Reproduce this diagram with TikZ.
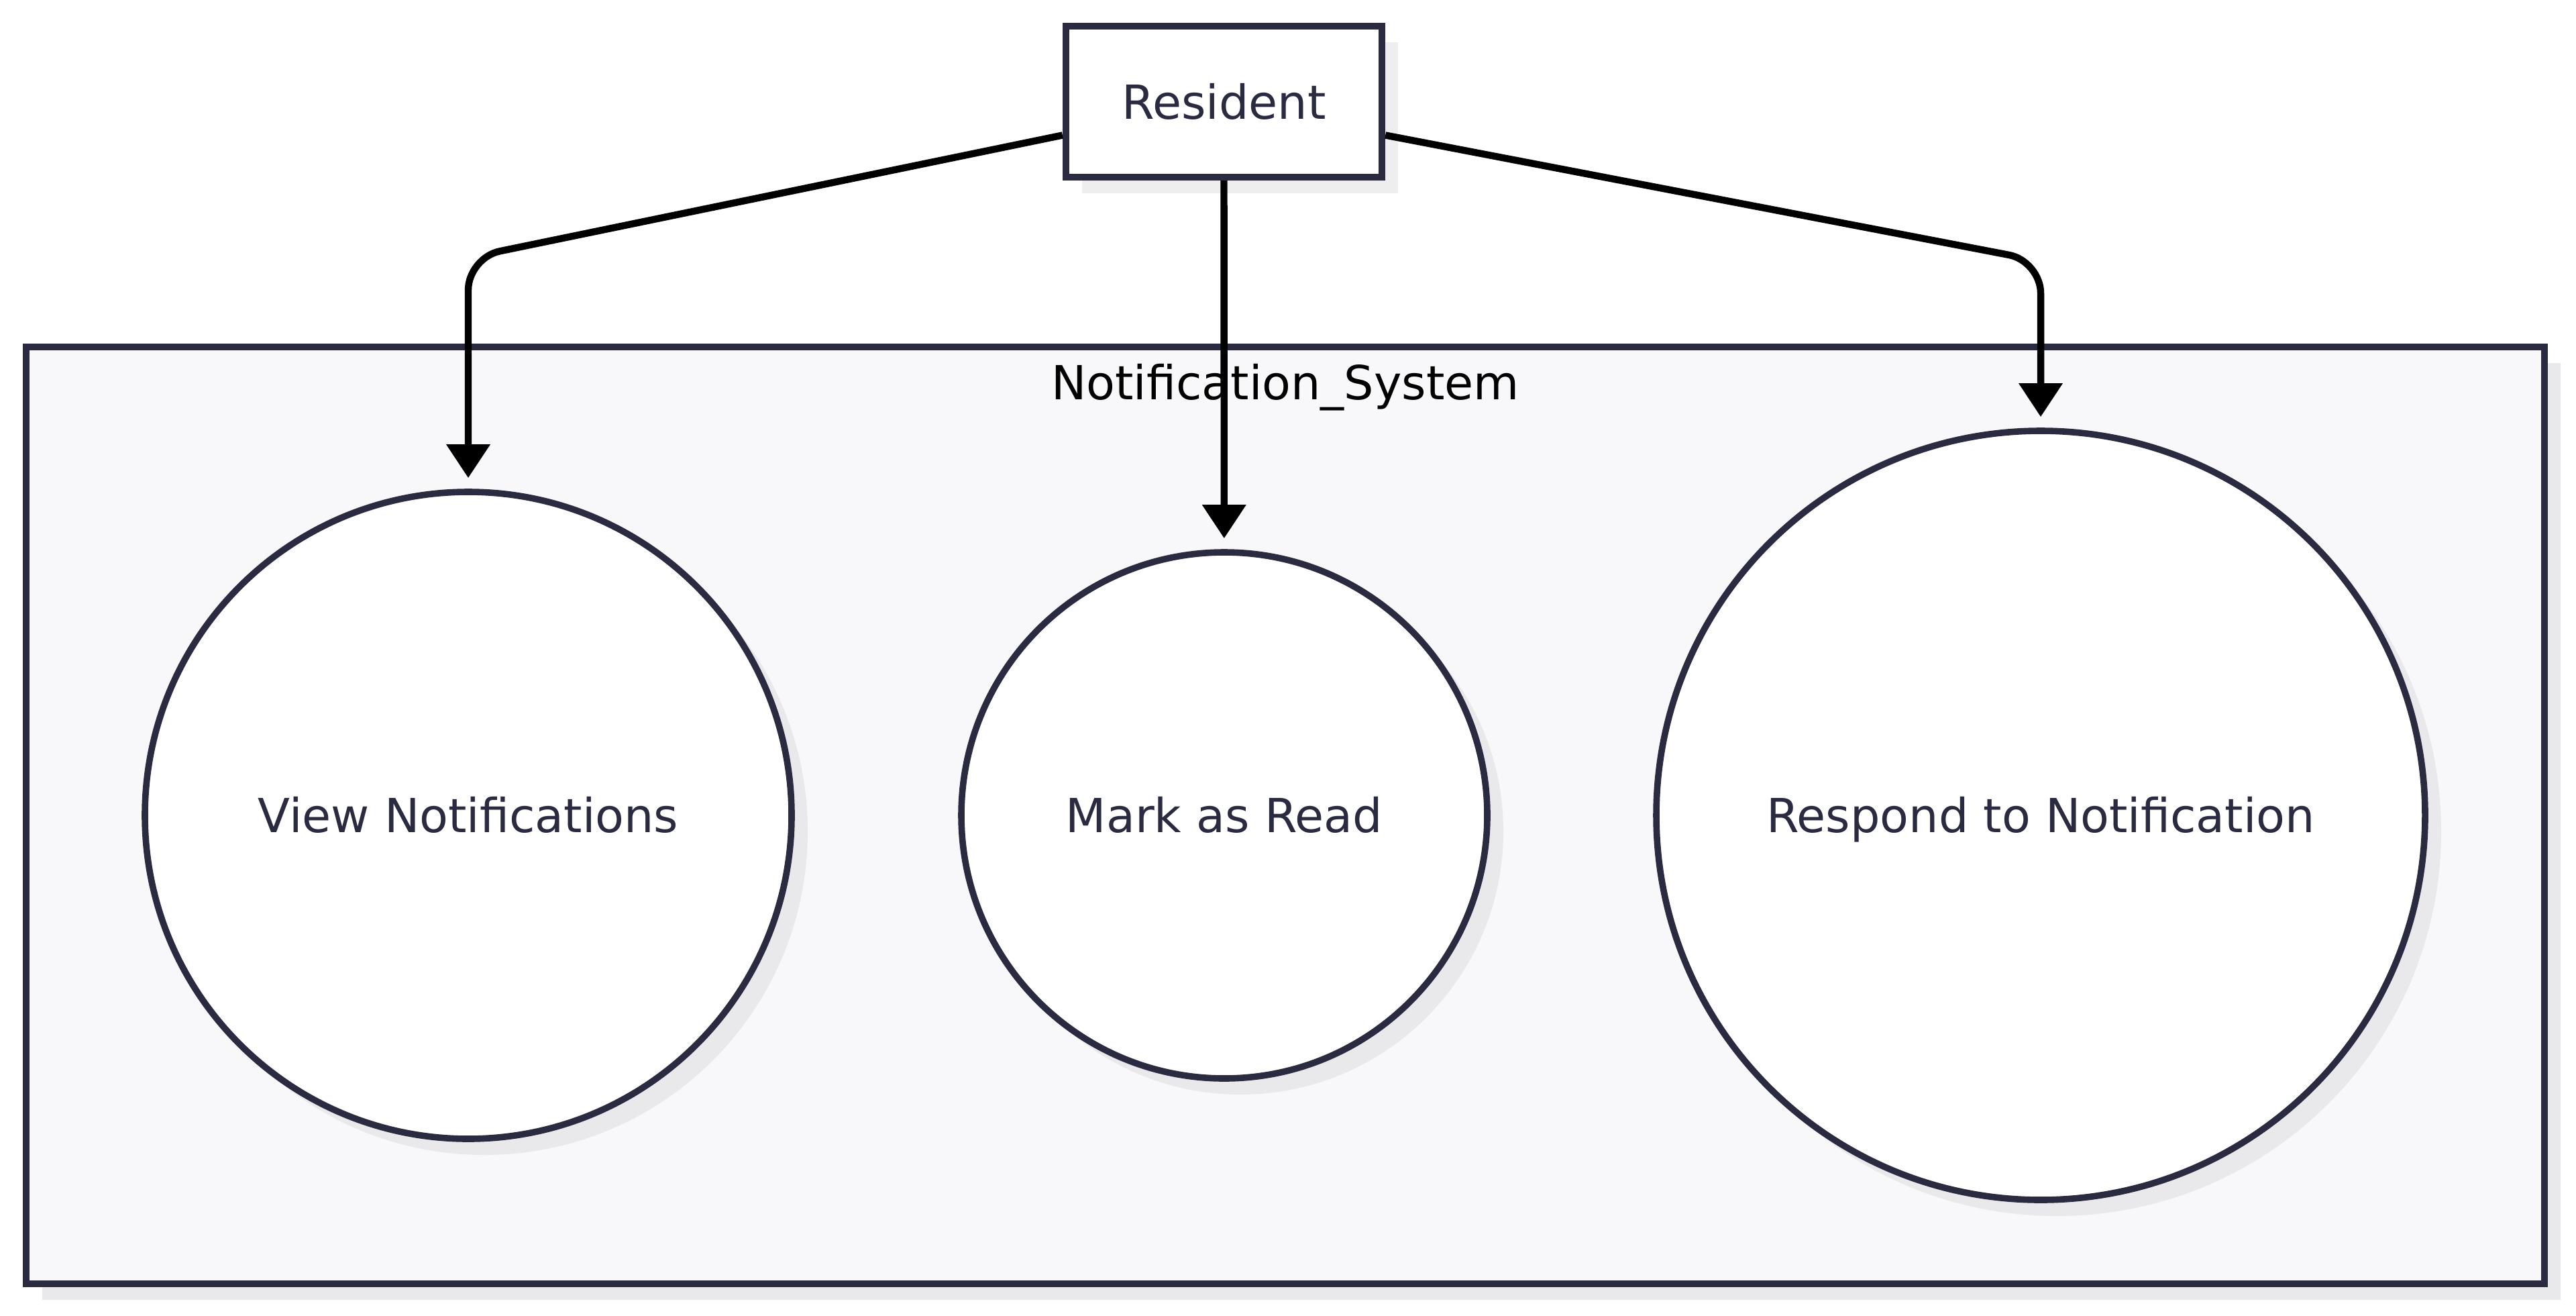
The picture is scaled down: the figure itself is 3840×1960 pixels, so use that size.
\documentclass[tikz,border=0pt]{standalone}
\usepackage{fontspec}
\setmainfont{DejaVu Sans}
\usetikzlibrary{arrows.meta,calc,shadows}
\definecolor{ink}{HTML}{2A2A40}
\definecolor{sysfill}{HTML}{F8F8FA}
\definecolor{shadeA}{HTML}{E9E9EC}
\definecolor{shadeB}{HTML}{EEEEEE}
\begin{document}
\begin{tikzpicture}[x=0.25pt,y=-0.25pt,
  font=\fontsize{17.5}{21}\selectfont,
  shd/.style={drop shadow={shadow xshift=6pt,shadow yshift=-6pt,fill=#1,opacity=1}},
  actor/.style={draw=ink,line width=2.6pt,fill=white,text=ink,inner sep=0pt,
    minimum width=117.75pt,minimum height=56.25pt,shd=shadeB},
  usecase/.style={circle,draw=ink,line width=2.4pt,fill=white,text=ink,inner sep=0pt,
    text height=12.8pt,text depth=0pt,shd=shadeA},
  sysbox/.style={draw=ink,line width=2.6pt,fill=sysfill,inner sep=0pt,
    minimum width=938.5pt,minimum height=349pt,shd=shadeA},
  link/.style={draw=black,line width=2.6pt,rounded corners=12pt,
    -{Triangle[length=12.5pt,width=15.75pt]},shorten >=4pt}
]
\useasboundingbox (0,0) rectangle (3840,1960);
\fill[white] (0,0) rectangle (3840,1960);

\node[sysbox] (sys) at (1916,1215) {};
\node[anchor=base,text=black] (systitle) at (1916,595) {Notification\_System};

\node[usecase,minimum size=241pt] (view) at (698,1215) {View Notifications};
\node[usecase,minimum size=196pt] (mark) at (1825,1215) {Mark as Read};
\node[usecase,minimum size=286.5pt] (resp) at (3042,1215) {Respond to Notification};

\node[actor,text height=12.8pt,text depth=0pt] (res) at (1824.5,151.5) {Resident};

\coordinate (c1) at (698,384);
\coordinate (c3) at (3042,389);

\draw[link] ($(res.west)+(0,50)$) -- (c1) -- (view);
\draw[link,rounded corners=0pt] (res.south) -- (mark);
\draw[link] ($(res.east)+(0,50)$) -- (c3) -- (resp);
\end{tikzpicture}
\end{document}
